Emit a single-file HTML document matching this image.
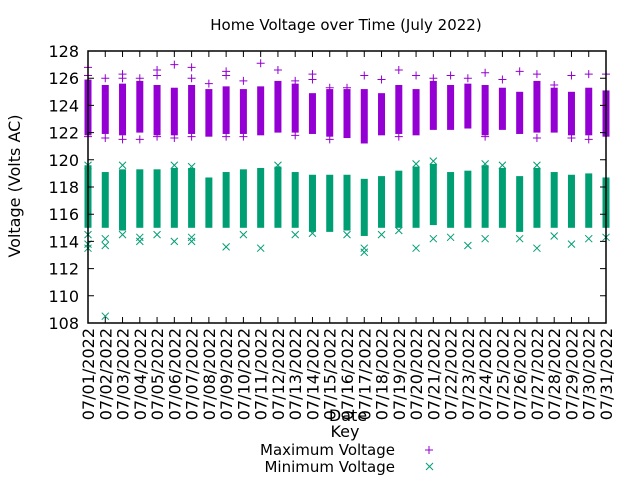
<!DOCTYPE html>
<html><head><meta charset="utf-8"><style>
body{margin:0;background:#fff}
svg text{font-family:"DejaVu Sans","Liberation Sans",sans-serif;fill:#000}
</style></head><body>
<svg id="c" width="640" height="480" viewBox="0 0 640 480">
<text x="346" y="30" font-size="15" text-anchor="middle">Home Voltage over Time (July 2022)</text>
<text transform="translate(20,186) rotate(-90)" font-size="16" text-anchor="middle">Voltage (Volts AC)</text>
<g id="plot"></g>
<text x="348" y="421" font-size="16" text-anchor="middle">Date</text>
<text x="345" y="437" font-size="16" text-anchor="middle">Key</text>
<g>
<text x="395" y="455" font-size="15" text-anchor="end">Maximum Voltage</text>
<path d="M425 450h8M429 446v8" stroke="#9400d3" stroke-width="1"/>
</g>
<g>
<text x="395" y="472" font-size="15" text-anchor="end">Minimum Voltage</text>
<path d="M426 463l7 7M433 463l-7 7" stroke="#009e73" stroke-width="1"/>
</g>
</svg>
<script>
const days=[1,2,3,4,5,6,7,8,9,10,11,12,13,14,15,16,17,18,19,20,21,22,23,24,25,26,27,28,29,30,31];
const yTicks=[108,110,112,114,116,118,120,122,124,126,128];
const maxHigh=[125.9,125.5,125.6,125.8,125.5,125.3,125.5,125.2,125.4,125.2,125.4,125.8,125.6,124.9,125.2,125.2,125.2,124.9,125.5,125.2,125.8,125.5,125.6,125.5,125.3,125.0,125.8,125.3,125.0,125.3,125.1];
const maxLow=[121.8,121.9,121.8,122.0,121.8,121.8,121.9,121.7,121.9,121.9,121.8,122.0,122.0,121.9,121.7,121.6,121.2,121.8,121.9,121.8,122.2,122.2,122.3,121.8,122.2,121.9,122.0,122.0,121.8,121.8,121.7];
const minHigh=[119.6,119.1,119.3,119.3,119.3,119.4,119.4,118.7,119.1,119.3,119.4,119.5,119.1,118.9,118.9,118.9,118.6,118.8,119.2,119.5,119.7,119.1,119.2,119.6,119.4,118.8,119.4,119.1,118.9,119.0,118.7];
const minLow=[115.0,115.0,114.8,115.0,115.0,115.0,115.0,115.0,115.0,115.0,115.0,115.0,115.0,114.7,114.7,114.8,114.4,115.0,115.0,115.0,115.2,115.0,115.0,115.0,115.0,114.7,115.0,115.0,115.0,115.0,115.0];
const maxOutDay=[1,1,2,3,3,4,5,5,6,7,7,8,9,9,10,11,12,13,14,14,15,16,17,18,19,20,21,22,23,24,25,26,27,28,29,30,31,1,2,3,4,5,6,7,9,10,13,15,19,24,27,29,30];
const maxOutVal=[126.8,126.2,126.0,126.3,126.0,126.0,126.6,126.2,127.0,126.8,126.0,125.6,126.5,126.2,125.8,127.1,126.6,125.8,126.3,125.9,125.3,125.3,126.2,125.9,126.6,126.2,126.0,126.2,126.0,126.4,125.9,126.5,126.3,125.5,126.2,126.3,126.3,121.7,121.6,121.5,121.5,121.7,121.6,121.7,121.7,121.7,121.8,121.5,121.7,121.7,121.6,121.6,121.5];
const minOutDay=[1,1,1,2,2,2,3,4,4,5,6,7,7,9,10,11,13,14,16,17,17,18,19,20,21,22,23,24,26,27,28,29,30,31,1,3,6,7,12,20,21,24,25,27];
const minOutVal=[114.5,113.8,113.5,114.2,113.7,108.5,114.5,114.3,114.0,114.5,114.0,114.3,114.0,113.6,114.5,113.5,114.5,114.6,114.5,113.5,113.2,114.5,114.8,113.5,114.2,114.3,113.7,114.2,114.2,113.5,114.4,113.8,114.2,114.3,119.6,119.6,119.6,119.5,119.6,119.7,119.9,119.7,119.6,119.6];
const L=88,R=606,T=51,B=323;
const xs=d=>L+(d-1)*(R-L)/30;
const ys=v=>B-(v-108)*(B-T)/20;
const NS="http://www.w3.org/2000/svg";
const g=document.getElementById('plot');
function mk(t,a){const e=document.createElementNS(NS,t);for(const k in a)e.setAttribute(k,a[k]);g.appendChild(e);return e;}
days.forEach((d,i)=>{
 let r=mk('rect',{x:xs(d)-3.5,y:ys(maxHigh[i]),width:7,height:ys(maxLow[i])-ys(maxHigh[i]),fill:'#9400d3'});
 
 
 let q=mk('rect',{x:xs(d)-3.5,y:ys(minHigh[i]),width:7,height:ys(minLow[i])-ys(minHigh[i]),fill:'#009e73'});
 
 
});
maxOutDay.forEach((d,i)=>{
 const x=xs(d),y=ys(maxOutVal[i]);
 let p=mk('path',{d:`M${x-4} ${y}h8M${x} ${y-4}v8`,stroke:'#9400d3','stroke-width':1,fill:'none'});
 
 
});
minOutDay.forEach((d,i)=>{
 const x=xs(d),y=ys(minOutVal[i]);
 let p=mk('path',{d:`M${x-3.5} ${y-3.5}l7 7M${x+3.5} ${y-3.5}l-7 7`,stroke:'#009e73','stroke-width':1,fill:'none'});
 
 
});
let f=mk('path',{d:`M${L} ${T}H${R}V${B}H${L}Z`,stroke:'#000','stroke-width':1.5,fill:'none'});


yTicks.forEach(v=>{
 const y=ys(v);
 let t=mk('path',{d:`M${L} ${y}h6M${R} ${y}h-6`,stroke:'#000'});
 
 
 let tx=mk('text',{x:L-9,y:y+6,'font-size':16,'text-anchor':'end'});
 tx.textContent=v;
 
 
});
days.forEach(d=>{
 const x=xs(d);
 let t=mk('path',{d:`M${x} ${B}v-6M${x} ${T}v6`,stroke:'#000'});
 
 
 let tx=mk('text',{transform:`translate(${x+6},${B+5}) rotate(-90)`,'font-size':16,'text-anchor':'end'});
 tx.textContent='07/'+String(d).padStart(2,'0')+'/2022';
 
 
});
</script>
</body></html>
